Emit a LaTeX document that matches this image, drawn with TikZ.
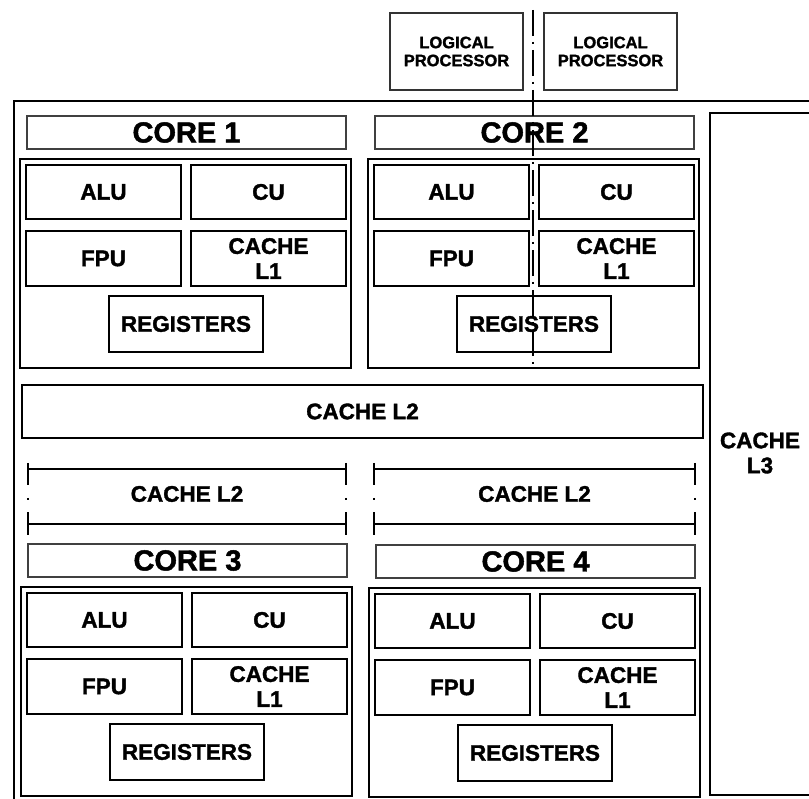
\documentclass[tikz,border=0pt]{standalone}
\usepackage{fontspec}
\setmainfont{Liberation Sans}[BoldFeatures={FakeBold=1.6}]
\usetikzlibrary{arrows.meta,positioning}
\tikzset{
  hdr/.style={draw=black!75,line width=1.2pt,minimum width=319pt,minimum height=33pt,inner sep=0pt,font=\fontsize{29}{31}\selectfont\bfseries},
  unit/.style={draw,line width=2.2pt,minimum width=155pt,minimum height=54pt,inner sep=0pt,align=center,font=\fontsize{22.5}{25}\selectfont\bfseries},
  corebox/.style={draw,line width=1.6pt,minimum width=331pt,minimum height=209pt,inner sep=0pt},
  lp/.style={draw=black!80,line width=1.2pt,minimum width=133pt,minimum height=77pt,inner sep=0pt,align=center,font=\fontsize{16.5}{18}\selectfont\bfseries},
  cachebox/.style={draw,line width=1.4pt,inner sep=0pt,align=center,font=\fontsize{22.5}{25}\selectfont\bfseries},
  lbl/.style={inner sep=0pt,font=\fontsize{22.5}{25}\selectfont\bfseries},
  frame/.style={line width=2pt},
  edge/.style={line width=1.6pt},
  side/.style={line width=2pt,dash pattern=on 22pt off 13pt on 2pt off 12pt on 23pt},
  split/.style={line width=2pt,dash pattern=on 26pt off 6pt on 2pt off 6pt}
}
\begin{document}
\begin{tikzpicture}[x=1pt,y=-1pt]
\useasboundingbox[fill=white] (0,0) rectangle (809,799);
% processor frame and shared caches
\draw[frame] (14,830) -- (14,101) -- (830,101);
\draw[edge] (812,113) -- (710,113) -- (710,795) -- (812,795);
\node[lbl,align=center] (l3) at (760,453) {CACHE\\L3};
\node[cachebox,minimum width=681pt,minimum height=53pt] (l2) at (362.5,411.5) {CACHE L2};
% logical processors
\node[lp] (lp1) at (456.5,51.5) {LOGICAL\\PROCESSOR};
\node[lp] (lp2) at (610.5,51.5) {LOGICAL\\PROCESSOR};
% cores
\foreach \n/\dx/\dy in {1/0/0,2/348/0,3/1/428,4/349/429}{
  \begin{scope}[shift={(\dx,\dy)}]
    \node[hdr] (hdr\n) at (186.5,132.5) {CORE \n};
    \node[corebox] (core\n) at (185.5,263.5) {};
    \node[unit] (alu\n) at (103.5,192) {ALU};
    \node[unit] (cu\n) at (268.5,192) {CU};
    \node[unit,minimum height=55pt] (fpu\n) at (103.5,258.5) {FPU};
    \node[unit,minimum height=55pt] (lone\n) at (268.5,258.5) {CACHE\\L1};
    \node[unit,minimum width=154pt,minimum height=56pt] (reg\n) at (186,324) {REGISTERS};
  \end{scope}
}
% private L2 caches of cores 3 and 4
\foreach \m/\xa/\xb in {a/28/346,b/374/695}{
  \node[lbl] (ltwo\m) at ({(\xa+\xb)/2},494) {CACHE L2};
  \draw[edge] (\xa,469) -- (\xb,469);
  \draw[edge] (\xa,524) -- (\xb,524);
  \draw[side] (\xa,463) -- (\xa,535);
  \draw[side] (\xb,463) -- (\xb,535);
}
% hyper-threading split of core 2
\coordinate (top) at (533,10);
\draw[split] (top) -- (top |- core2.south);
\end{tikzpicture}
\end{document}
